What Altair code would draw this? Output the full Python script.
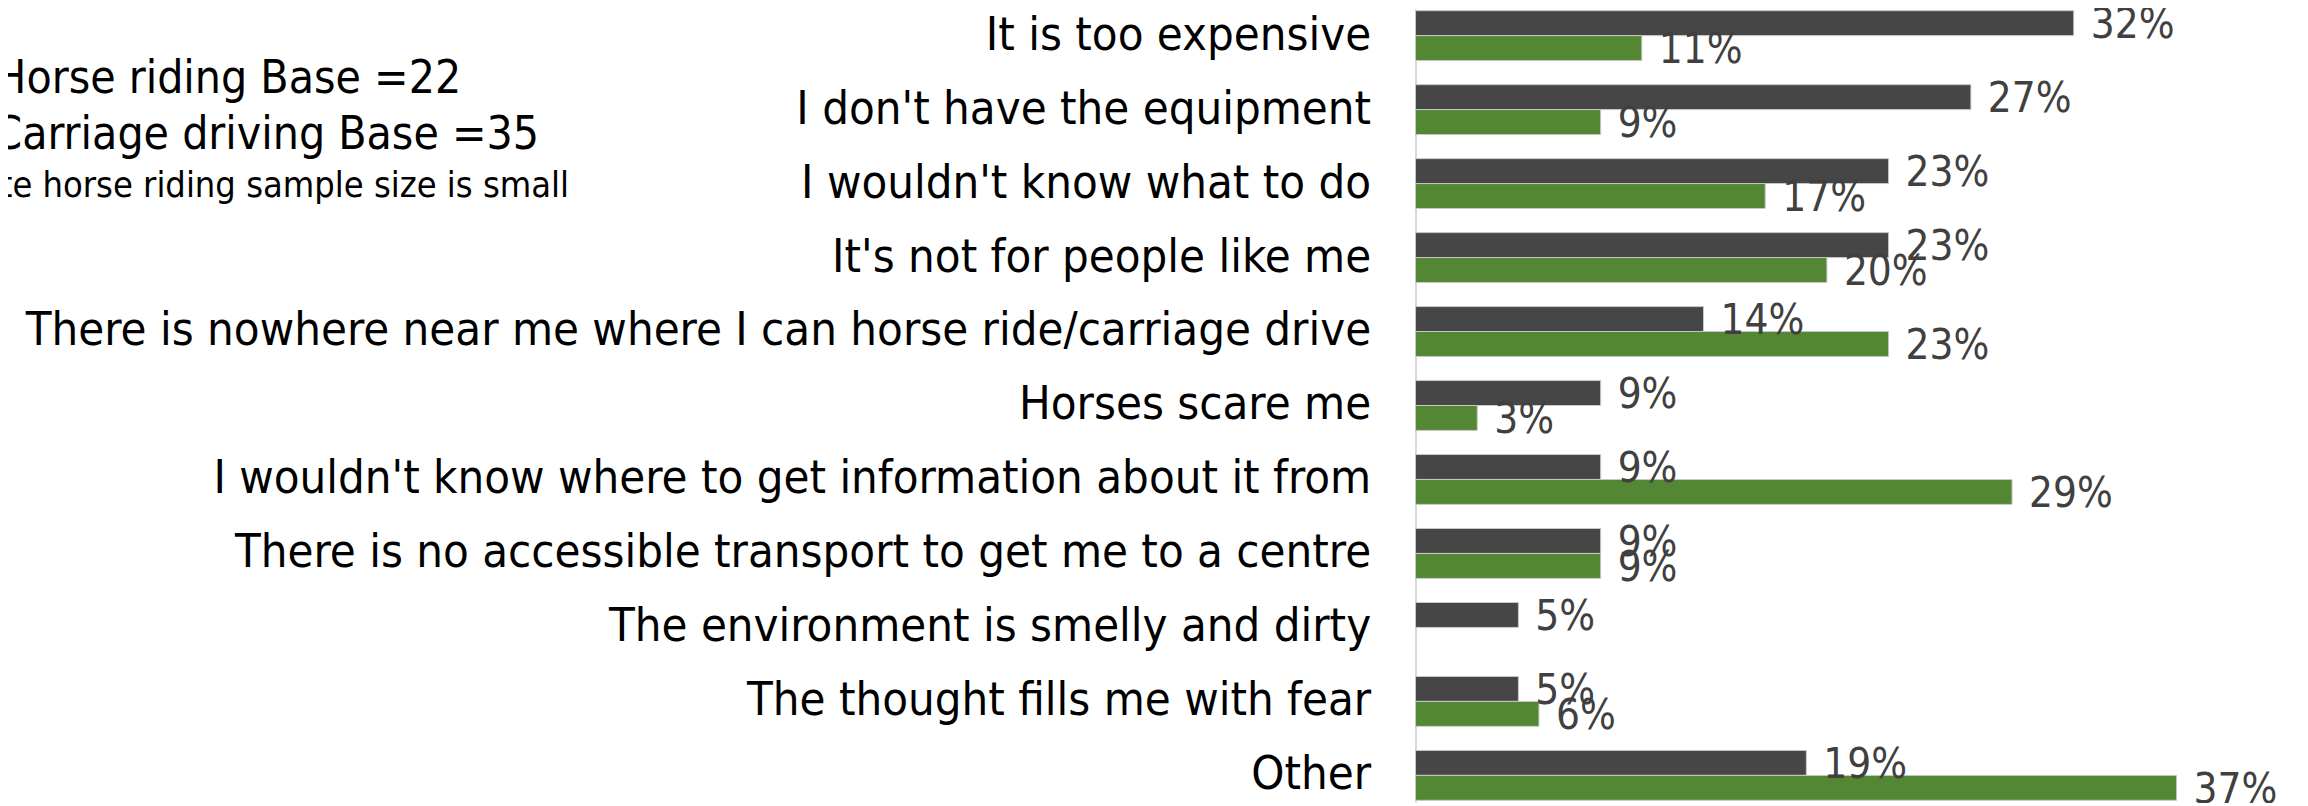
import altair as alt
import pandas as pd

categories = [
    "It is too expensive",
    "I don't have the equipment",
    "I wouldn't know what to do",
    "It's not for people like me",
    "There is nowhere near me where I can horse ride/carriage drive",
    "Horses scare me",
    "I wouldn't know where to get information about it from",
    "There is no accessible transport to get me to a centre",
    "The environment is smelly and dirty",
    "The thought fills me with fear",
    "Other",
]
horse_riding = [32, 27, 23, 23, 14, 9, 9, 9, 5, 5, 19]
carriage_driving = [11, 9, 17, 20, 23, 3, 29, 9, None, 6, 37]
series_names = ["Horse riding", "Carriage driving"]
series_colors = ["#464646", "#538733"]
notes = [
    "Horse riding Base =22",
    "Carriage driving Base =35",
    "Note horse riding sample size is small",
]

rows = []
for c, h, d in zip(categories, horse_riding, carriage_driving):
    if h is not None:
        rows.append({"category": c, "series": series_names[0], "value": h})
    if d is not None:
        rows.append({"category": c, "series": series_names[1], "value": d})
df = pd.DataFrame(rows)

FONT = "DejaVu Sans Condensed"

y_enc = alt.Y(
    "category:N",
    sort=categories,
    scale=alt.Scale(paddingInner=0.326, paddingOuter=0.027),
    axis=alt.Axis(
        title=None,
        labelFont=FONT,
        labelFontSize=47,
        labelColor="#000000",
        labelLimit=3000,
        labelPadding=45,
        ticks=False,
        grid=False,
        domain=True,
        domainColor="#d9d9d9",
        domainWidth=2,
    ),
)
yoff = alt.YOffset("series:N", sort=series_names,
                   scale=alt.Scale(paddingInner=0, paddingOuter=0))
x_enc = alt.X("value:Q", scale=alt.Scale(domain=[0, 43]), axis=None)

base = alt.Chart(df).encode(y=y_enc, yOffset=yoff, x=x_enc)

bars = base.mark_bar(stroke="#c8c8c8", strokeWidth=1).encode(
    color=alt.Color("series:N", scale=alt.Scale(domain=series_names, range=series_colors), legend=None)
)

labels = base.transform_calculate(label="datum.value + '%'").mark_text(
    align="left", baseline="middle", dx=17, dy=2, fontSize=42, font=FONT, color="#404040"
).encode(text="label:N")

note1 = alt.Chart(pd.DataFrame({"t": [notes[0]]})).mark_text(
    align="right", baseline="alphabetic", fontSize=46, font=FONT, color="#000000"
).encode(text="t:N", x=alt.value(-956), y=alt.value(84))
note2 = alt.Chart(pd.DataFrame({"t": [notes[1]]})).mark_text(
    align="right", baseline="alphabetic", fontSize=46, font=FONT, color="#000000"
).encode(text="t:N", x=alt.value(-878), y=alt.value(141))
note3 = alt.Chart(pd.DataFrame({"t": [notes[2]]})).mark_text(
    align="right", baseline="alphabetic", fontSize=36, font=FONT, color="#000000"
).encode(text="t:N", x=alt.value(-848), y=alt.value(189))

chart = alt.layer(bars, labels, note1, note2, note3).properties(
    width=886,
    height=795,
    autosize=alt.AutoSizeParams(type="none"),
    padding={"left": 1410, "top": 0, "right": 0, "bottom": 0},
).configure_view(stroke=None)

chart.save("out.html", embed_options={"renderer": "svg", "actions": False})
